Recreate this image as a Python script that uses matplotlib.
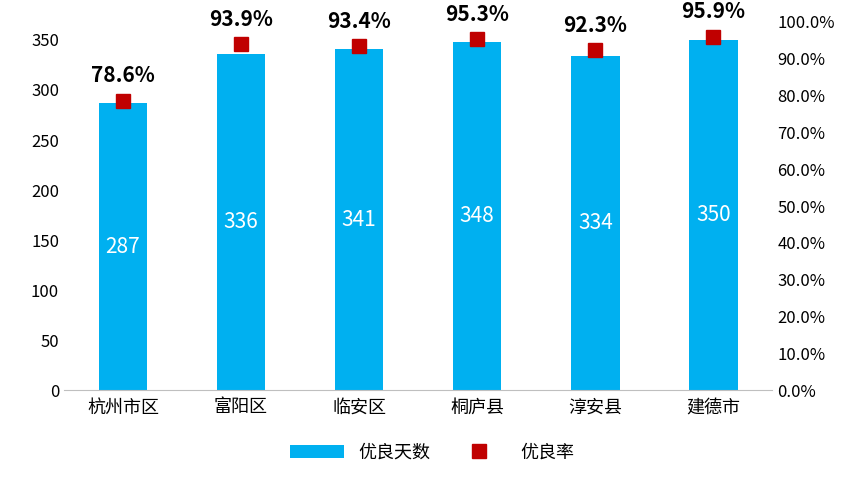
import matplotlib
matplotlib.use("Agg")
import matplotlib.pyplot as plt
from matplotlib.ticker import PercentFormatter

plt.rcParams['font.family'] = ['Noto Sans CJK SC', 'DejaVu Sans']

categories = ["杭州市区", "富阳区", "临安区", "桐庐县", "淳安县", "建德市"]
good_days = [287, 336, 341, 348, 334, 350]
good_rate = [0.786, 0.939, 0.934, 0.953, 0.923, 0.959]

fig = plt.figure(figsize=(8.64, 4.78), dpi=100)
ax = fig.add_axes([0.074, 0.184, 0.82, 0.77])
ax2 = ax.twinx()

x = range(len(categories))
ax.bar(x, good_days, width=0.41, color="#00B0F0", label="优良天数", zorder=2)
for xi, v in zip(x, good_days):
    ax.text(xi, v / 2, str(v), ha="center", va="center", color="white", fontsize=15)

ax.set_xlim(-0.5, len(categories) - 0.5)
ax.set_ylim(0, 368)
ax.set_yticks(range(0, 351, 50))
ax.set_xticks(list(x))
ax.set_xticklabels(categories, fontsize=13)
ax.tick_params(axis='y', labelsize=12, length=0)
ax.tick_params(axis='x', length=0, pad=6)

ax2.set_ylim(0, 1.0)
ax2.set_yticks([i / 10 for i in range(11)])
ax2.yaxis.set_major_formatter(PercentFormatter(1.0, decimals=1))
ax2.tick_params(axis='y', labelsize=12, length=0)
ax2.plot(list(x), good_rate, linestyle="none", marker="s", markersize=10,
         color="#C00000", label="优良率", zorder=3)
for xi, r in zip(x, good_rate):
    ax2.text(xi, r + 0.04, f"{r*100:.1f}%", ha="center", va="bottom",
             fontsize=15, fontweight="bold", color="black")

for a in (ax, ax2):
    for s in ("top", "right", "left"):
        a.spines[s].set_visible(False)
ax.spines["bottom"].set_color("#BFBFBF")
ax2.spines["bottom"].set_visible(False)

h1, l1 = ax.get_legend_handles_labels()
h2, l2 = ax2.get_legend_handles_labels()
fig.legend(h1 + h2, l1 + l2, loc="lower center", ncol=2, frameon=False,
           fontsize=13, bbox_to_anchor=(0.5, 0.0), handlelength=3, columnspacing=1.2)

fig.savefig("out.png", dpi=100)
